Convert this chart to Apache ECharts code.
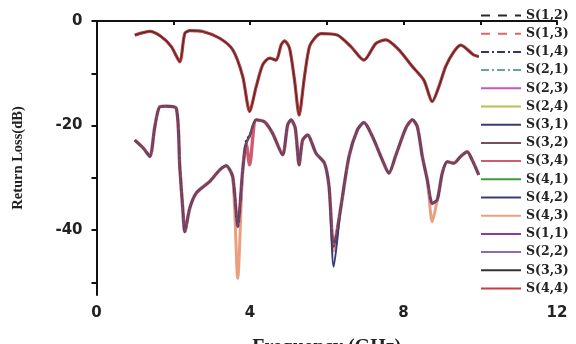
<!DOCTYPE html>
<html><head><meta charset="utf-8">
<script src="https://cdn.jsdelivr.net/npm/echarts@6/dist/echarts.min.js"></script>
<style>html,body{margin:0;padding:0;background:#fff}#c{width:576px;height:344px}</style>
</head><body><div id="c"></div>
<script>
// ---- data ----
const xTicks = [0, 2, 4, 6, 8, 10, 12];
const xLabels = [0, 4, 8, 12];
const yTicks = [0, -10, -20, -30, -40, -50];
const yLabels = [0, -20, -40];

const upperFreq = [1.00,1.39,1.69,1.95,2.17,2.30,2.43,2.77,3.21,3.55,3.81,3.99,4.16,4.33,4.51,4.68,4.81,4.90,5.03,5.16,5.28,5.42,5.55,5.72,5.85,6.28,6.63,6.97,7.28,7.54,7.88,8.23,8.53,8.75,8.92,9.10,9.31,9.49,9.83,9.96];
const upperLoss = [-2.7,-2.0,-3.0,-4.9,-7.8,-2.4,-1.85,-2.0,-3.3,-5.5,-10.6,-17.3,-12.6,-8.4,-7.1,-7.5,-4.6,-3.8,-5.2,-11.3,-18.0,-10.6,-4.9,-3.0,-2.4,-2.7,-4.9,-7.5,-4.3,-3.6,-5.5,-8.7,-11.3,-15.4,-12.6,-8.7,-5.9,-4.6,-6.5,-6.8];

const lowerFreq = [1.00,1.22,1.39,1.52,1.65,1.82,2.08,2.17,2.25,2.30,2.43,2.60,2.95,3.21,3.38,3.55,3.68,3.81,3.90,3.99,4.16,4.38,4.59,4.85,4.98,5.07,5.18,5.28,5.37,5.50,5.72,5.94,6.06,6.18,6.37,6.58,6.80,6.97,7.19,7.45,7.62,7.79,8.06,8.23,8.36,8.49,8.62,8.75,8.88,9.01,9.14,9.31,9.49,9.66,9.79,9.96];
const lowerLoss = [-22.8,-24.3,-25.9,-20.2,-16.4,-16.3,-16.7,-27.9,-36.1,-40.3,-35.8,-32.9,-30.7,-28.5,-27.7,-29.8,-39.3,-28.5,-23.4,-22.0,-18.9,-19.3,-21.5,-25.6,-19.9,-18.9,-20.5,-27.5,-22.8,-21.8,-25.3,-27.2,-31.7,-43.1,-35.5,-25.9,-20.8,-19.4,-22.1,-26.6,-29.1,-25.9,-20.5,-18.9,-20.2,-25.9,-30.4,-34.9,-34.2,-29.1,-26.9,-27.2,-25.9,-25.0,-26.6,-29.4];
// series whose dips differ from the shared lower trace (frequency -> dB)
const dipS43 = {3.68: -49.2, 8.75: -38.4, 6.18: -44.0};
const dipS42 = {6.18: -47.0};
const dipS34 = {3.99: -27.5};
const dipS14 = {3.90: -22.6};

const names  = ['S(1,2)','S(1,3)','S(1,4)','S(2,1)','S(2,3)','S(2,4)','S(3,1)','S(3,2)','S(3,4)','S(4,1)','S(4,2)','S(4,3)','S(1,1)','S(2,2)','S(3,3)','S(4,4)'];
const colors = ['#2a2a2a','#d86a6a','#34346e','#5aa8a0','#d050c8','#b8c050','#3a3a70','#7a4e58','#d05a70','#3c9a3c','#3a3a78','#e8a080','#8a3aa0','#8a6ab8','#333333','#d03a3a'];
const group  = ['L','L','L','L','L','L','L','L','L','L','L','L','U','U','U','U'];
const dashes = [[9,8],[9,8],[8,3,2,3],[8,3,2,3],'solid','solid','solid','solid','solid','solid','solid','solid','solid','solid','solid','solid'];
const dips = {'S(4,3)': dipS43, 'S(4,2)': dipS42, 'S(3,4)': dipS34, 'S(1,4)': dipS14};
// drawing style on the plot (overlap order / width), legend stays in list order
const plotWidth = {'S(3,4)': 3.4, 'S(4,3)': 3, 'S(3,2)': 1.3, 'S(4,4)': 3.2, 'S(3,3)': 1.2};
const plotZ = {'S(4,3)': 3, 'S(3,4)': 4, 'S(4,2)': 5, 'S(1,4)': 5, 'S(3,2)': 6, 'S(4,4)': 7, 'S(3,3)': 8};

function pts(freq, loss, ov) {
  return freq.map((f, i) => [f, (ov && ov[f] !== undefined) ? ov[f] : loss[i]]);
}

const series = names.map((n, i) => ({
  name: n, type: 'line', symbol: 'none', smooth: 0.25,
  data: group[i] === 'U' ? pts(upperFreq, upperLoss) : pts(lowerFreq, lowerLoss, dips[n]),
  lineStyle: {color: colors[i], width: plotWidth[n] || 2, type: dashes[i]},
  itemStyle: {color: colors[i]},
  z: plotZ[n] || 2
}));

const chart = echarts.init(document.getElementById('c'), null, {renderer: 'canvas'});
chart.setOption({
  animation: false,
  backgroundColor: '#fff',
  grid: {left: 96.5, right: 19, top: 21, bottom: 49, outerBoundsMode: 'none', containLabel: false},
  legend: {
    orient: 'vertical', left: 480, top: 9, padding: 0,
    itemWidth: 40, itemHeight: 12, itemGap: 5.2,
    itemStyle: {opacity: 0},
    lineStyle: {width: 2},
    textStyle: {fontFamily: 'DejaVu Serif', fontWeight: 'bold', fontSize: 12.5, color: '#222', padding: [0,0,0,0]},
    data: names
  },
  xAxis: {
    type: 'value', min: 0, max: 12,
    name: 'Frequency (GHz)', nameLocation: 'middle', nameGap: 43,
    nameTextStyle: {fontFamily: 'Liberation Serif', fontWeight: 'bold', fontSize: 20, color: '#222'},
    axisLine: {show: true, lineStyle: {color: '#111', width: 2}},
    axisTick: {show: true, customValues: xTicks, length: 4, lineStyle: {color: '#111', width: 2}},
    axisLabel: {customValues: xLabels, fontFamily: 'DejaVu Sans', fontWeight: 'bold', fontSize: 15, color: '#222', margin: 11},
    splitLine: {show: false}
  },
  yAxis: {
    type: 'value', min: -52.4, max: 0,
    name: 'Return Loss(dB)', nameLocation: 'middle', nameGap: 71,
    nameTextStyle: {fontFamily: 'Liberation Serif', fontWeight: 'bold', fontSize: 14.5, color: '#222'},
    axisLine: {show: true, lineStyle: {color: '#111', width: 2}},
    axisTick: {show: true, customValues: yTicks, length: 5, lineStyle: {color: '#111', width: 2}},
    axisLabel: {customValues: yLabels, fontFamily: 'DejaVu Sans', fontWeight: 'bold', fontSize: 15, color: '#222', margin: 14},
    splitLine: {show: false}
  },
  series: series
});
</script></body></html>
